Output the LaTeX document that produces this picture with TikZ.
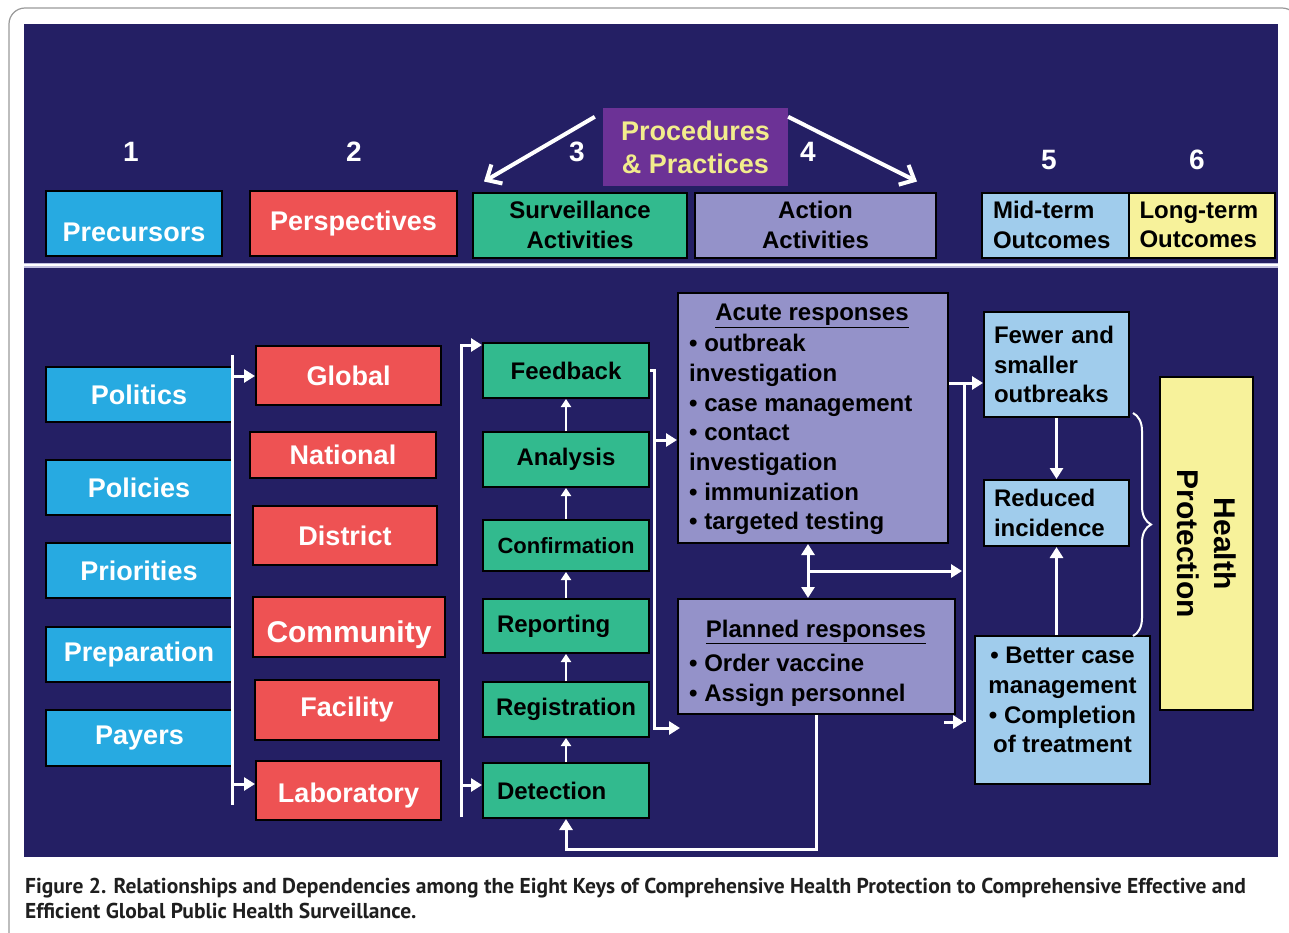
\documentclass[tikz,border=0pt]{standalone}
\usepackage{fontspec}
\setmainfont{Liberation Sans}
\newfontfamily\capfont{PT Sans}
\usetikzlibrary{arrows.meta, decorations.pathreplacing}

\definecolor{navy}{RGB}{36,31,100}
\definecolor{keycyan}{RGB}{39,170,225}
\definecolor{keyred}{RGB}{238,82,83}
\definecolor{keygreen}{RGB}{50,186,142}
\definecolor{lavend}{RGB}{148,146,201}
\definecolor{paleblue}{RGB}{160,204,236}
\definecolor{paleyellow}{RGB}{247,242,155}
\definecolor{procpurple}{RGB}{108,50,150}
\definecolor{procyellow}{RGB}{242,236,140}

\tikzset{
  keybox/.style={draw=black, line width=2pt, inner sep=0pt, font=\bfseries\fontsize{24}{29.7}\selectfont},
  wbox/.style={keybox, text=white, font=\bfseries\fontsize{27}{30}\selectfont},
  num/.style={text=white, font=\bfseries\fontsize{28}{30}\selectfont},
  txt/.style={inner sep=0pt, font=\bfseries\fontsize{24}{29.7}\selectfont},
  wline/.style={white, line width=3pt},
  arr/.style={white, line width=3pt, -{Triangle[length=11pt,width=13pt]}},
  sarr/.style={white, line width=2.5pt, -{Triangle[length=8pt,width=10pt]}},
  barb/.style={white, line width=4pt, -{Straight Barb[length=12pt,width=22pt]}},
}

\begin{document}
\begin{tikzpicture}[x=1pt, y=-1pt]
  \useasboundingbox (0,0) rectangle (1289,932);

  % frame and dark panel
  \draw[gray!80, line width=1.2pt, rounded corners=16pt] (9,8) rectangle (1298,960);
  \fill[navy] (24,24) rectangle (1278,857);
  \draw[lavend!60!white, line width=5pt] (24,265) -- (1278,265);
  \draw[white, line width=2.5pt] (24,265) -- (1278,265);

  % Top row: the numbered keys
  \node[num] (n1) at (131,152) {1};
  \node[num] (n2) at (354,152) {2};
  \node[num] (n3) at (577,152) {3};
  \node[num] (n4) at (808,152) {4};
  \node[num] (n5) at (1049,160) {5};
  \node[num] (n6) at (1197,160) {6};

  \node[wbox, fill=keycyan, minimum width=176pt, minimum height=65pt, text height=36pt] (prec) at (134,223.5) {Precursors};
  \node[wbox, fill=keyred, minimum width=207pt, minimum height=65pt] (persp) at (353.5,223.5) {Perspectives};
  \node[keybox, fill=keygreen, minimum width=214pt, minimum height=65pt, align=center] (surv) at (580,225) {Surveillance\\Activities};
  \node[keybox, fill=lavend, minimum width=241pt, minimum height=65pt, align=center] (act) at (815.5,225) {Action\\Activities};
  \node[keybox, fill=paleblue, minimum width=147pt, minimum height=65pt, text width=125pt, align=left] (mid) at (1055.5,225) {Mid-term\\Outcomes};
  \node[keybox, fill=paleyellow, minimum width=146pt, minimum height=65pt, text width=125pt, align=left] (long) at (1202,225) {Long-term\\Outcomes};

  \node[fill=procpurple, text=procyellow, inner sep=0pt, minimum width=185pt, minimum height=78pt, align=center,
        font=\bfseries\fontsize{27}{33}\selectfont] (proc) at (695.5,147) {Procedures\\\& Practices};
  \draw[barb] ([shift={(-8pt,-9pt)}]proc.north west) -- ([shift={(12pt,10pt)}]surv.north west);
  \draw[barb] ([shift={(0pt,-9pt)}]proc.north east) -- ([shift={(-20pt,10pt)}]act.north east);

  % Precursors
  \node[wbox, fill=keycyan, minimum width=186pt, minimum height=55pt] (pol) at (139,394.5) {Politics};
  \node[wbox, fill=keycyan, minimum width=186pt, minimum height=55pt] (polc) at (139,487.5) {Policies};
  \node[wbox, fill=keycyan, minimum width=186pt, minimum height=55pt] (prio) at (139,570.5) {Priorities};
  \node[wbox, fill=keycyan, minimum width=186pt, minimum height=55pt] (prep) at (139,654.5) {Preparation};
  \node[wbox, fill=keycyan, minimum width=187pt, minimum height=56pt] (pay) at (139.5,738) {Payers};

  % Perspectives
  \node[wbox, fill=keyred, minimum width=185pt, minimum height=59pt] (glob) at (348.5,375.5) {Global};
  \node[wbox, fill=keyred, minimum width=186pt, minimum height=46pt] (nat) at (343,455) {National};
  \node[wbox, fill=keyred, minimum width=184pt, minimum height=59pt] (dist) at (345,535.5) {District};
  \node[wbox, fill=keyred, minimum width=192pt, minimum height=60pt, text height=38pt, font=\bfseries\fontsize{30}{32}\selectfont] (comm) at (349,627) {Community};
  \node[wbox, fill=keyred, minimum width=184pt, minimum height=60pt] (fac) at (347,710) {Facility};
  \node[wbox, fill=keyred, minimum width=185pt, minimum height=59pt, text height=30pt] (lab) at (348.5,790.5) {Laboratory};

  \coordinate (c1t) at (232,355);
  \coordinate (c1b) at (232,805);
  \coordinate (c1g) at (232,376);
  \coordinate (c1l) at (232,784);
  \draw[wline] (c1t) -- (c1b);
  \draw[arr] (c1g) -- (glob.west |- c1g);
  \draw[arr] (c1l) -- (lab.west |- c1l);

  % Surveillance activities
  \node[keybox, fill=keygreen, minimum width=166pt, minimum height=55pt] (feed) at (566,370.5) {Feedback};
  \node[keybox, fill=keygreen, minimum width=166pt, minimum height=55pt] (ana) at (566,459.5) {Analysis};
  \node[keybox, fill=keygreen, minimum width=166pt, minimum height=51pt, font=\bfseries\fontsize{22}{26}\selectfont] (conf) at (566,545.5) {Confirmation};
  \node[keybox, fill=keygreen, minimum width=166pt, minimum height=54pt, text width=138pt, align=left] (rep) at (566,626) {Reporting};
  \node[keybox, fill=keygreen, minimum width=166pt, minimum height=55pt] (reg) at (566,709.5) {Registration};
  \node[keybox, fill=keygreen, minimum width=166pt, minimum height=55pt, text width=138pt, align=left] (det) at (566,790.5) {Detection};

  \draw[sarr] (det.north) -- (reg.south);
  \draw[sarr] (reg.north) -- (rep.south);
  \draw[sarr] (rep.north) -- (conf.south);
  \draw[sarr] (conf.north) -- (ana.south);
  \draw[sarr] (ana.north) -- (feed.south);

  \coordinate (c2b) at (461,817);
  \coordinate (c2d) at (461,785);
  \draw[arr] (c2b) |- ([yshift=-3pt]feed.north west);
  \draw[arr] (c2d) -- (det.west |- c2d);

  % Action activities
  \node[keybox, fill=lavend, minimum width=270pt, minimum height=250pt] (acute) at (813,418) {};
  \node[txt] (acutet) at (812,316) {\underline{Acute responses}};
  \node[txt, anchor=north west, align=left] (acutel) at (689,334)
    {\textbullet\ outbreak\\investigation\\\textbullet\ case management\\\textbullet\ contact\\investigation\\\textbullet\ immunization\\\textbullet\ targeted testing};

  \node[keybox, fill=lavend, minimum width=277pt, minimum height=115pt] (plan) at (816.5,656.5) {};
  \node[txt] (plant) at (816,632) {\underline{Planned responses}};
  \node[txt, anchor=north west, align=left] (planl) at (689,654)
    {\textbullet\ Order vaccine\\\textbullet\ Assign personnel};

  \coordinate (g1) at (654,440);
  \coordinate (g2) at (654,728);
  \coordinate (g3) at (680,728);
  \draw[arr] (feed.east) -| (g2) -- (g3);
  \draw[arr] (g1) -- (acute.west |- g1);

  \coordinate (dv) at (808,571);
  \draw[white, line width=3pt, {Triangle[length=11pt,width=13pt]}-{Triangle[length=11pt,width=13pt]}]
    (acute.south -| dv) -- (plan.north -| dv);
  \draw[arr] (plan.south) |- ([yshift=-30pt]det.south) -- (det.south);

  % Outcomes
  \node[keybox, fill=paleblue, minimum width=145pt, minimum height=105pt, text width=125pt, align=left] (fewer) at (1056.5,364.5) {Fewer and\\smaller\\outbreaks};
  \node[keybox, fill=paleblue, minimum width=145pt, minimum height=66pt, text width=125pt, align=left] (red) at (1056.5,513) {Reduced\\incidence};
  \node[keybox, fill=paleblue, minimum width=175pt, minimum height=148pt] (better) at (1062.5,710) {};
  \node[txt, anchor=north, align=center] (bettert) at ([yshift=-12pt]better.north)
    {\textbullet\ Better case\\management\\\textbullet\ Completion\\of treatment};
  \node[keybox, fill=paleyellow, rotate=-90, minimum width=333pt, minimum height=93pt, align=center,
        font=\bfseries\fontsize{30}{37}\selectfont] (hp) at (1206.5,543.5) {Health\\Protection};

  \coordinate (v1) at (964,383);
  \coordinate (v2) at (962,571);
  \coordinate (v3) at (964,722);
  \coordinate (v4) at (944,722);
  \draw[wline] (v1) -- (v3);
  \draw[arr] (acute.east |- v1) -- (fewer.west |- v1);
  \draw[arr] (dv) -- (v2);
  \draw[arr] (v4) -- (v3);

  \draw[arr] (fewer.south) -- (red.north);
  \draw[arr] (better.north -| red.south) -- (red.south);

  \coordinate (br1) at (1133,413);
  \coordinate (br2) at (1133,636);
  \draw[white, line width=2pt, decorate, decoration={brace, amplitude=18pt}] (br1) -- (br2);

  % caption
  \node[anchor=north west, align=left, inner sep=0pt, text=black!88,
        font=\capfont\bfseries\fontsize{21.5}{25}\selectfont] (cap) at (25,878)
    {Figure 2. Relationships and Dependencies among the Eight Keys of Comprehensive Health Protection to Comprehensive Effective and\\Efficient Global Public Health Surveillance.};
\end{tikzpicture}
\end{document}
